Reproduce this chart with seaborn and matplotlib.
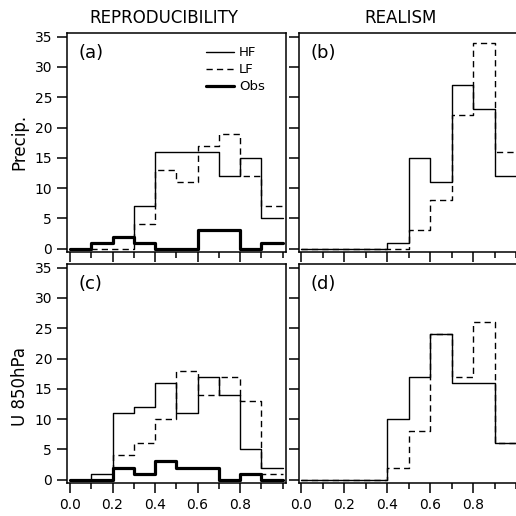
import numpy as np
import pandas as pd
import matplotlib
matplotlib.use("Agg")
import matplotlib.pyplot as plt
import seaborn as sns
from matplotlib.ticker import MultipleLocator

# ---- data ----
bin_edges = [0.0, 0.1, 0.2, 0.3, 0.4, 0.5, 0.6, 0.7, 0.8, 0.9, 1.0]

precip_repro_hf = [0, 1, 2, 7, 16, 16, 16, 12, 15, 5]
precip_repro_lf = [0, 0, 0, 4, 13, 11, 17, 19, 12, 7]
precip_repro_obs = [0, 1, 2, 1, 0, 0, 3, 3, 0, 1]

precip_real_hf = [0, 0, 0, 0, 1, 15, 11, 27, 23, 12]
precip_real_lf = [0, 0, 0, 0, 0, 3, 8, 22, 34, 16]

u850_repro_hf = [0, 1, 11, 12, 16, 11, 17, 14, 5, 2]
u850_repro_lf = [0, 0, 4, 6, 10, 18, 14, 17, 13, 1]
u850_repro_obs = [0, 0, 2, 1, 3, 2, 2, 0, 1, 0]

u850_real_hf = [0, 0, 0, 0, 10, 17, 24, 16, 16, 6]
u850_real_lf = [0, 0, 0, 0, 2, 8, 24, 17, 26, 6]

col_titles = ["REPRODUCIBILITY", "REALISM"]
row_labels = ["Precip.", "U 850hPa"]
panel_tags = ["(a)", "(b)", "(c)", "(d)"]
series_names = ["HF", "LF", "Obs"]
y_ticks = [0, 5, 10, 15, 20, 25, 30, 35]
x_ticks = [0.0, 0.2, 0.4, 0.6, 0.8]

# ---- style ----
sns.set_style("ticks")
plt.rcParams["font.family"] = ["DejaVu Sans"]
plt.rcParams["axes.linewidth"] = 1.1
for k in ["text.color", "axes.labelcolor", "xtick.color", "ytick.color",
          "axes.edgecolor", "xtick.labelcolor", "ytick.labelcolor"]:
    plt.rcParams[k] = "black"

W = 516.0
fig = plt.figure(figsize=(5.16, 5.16), dpi=100)

def frac(px):
    return px / W

pw = 219
left_x = [67, 299]
top_y = [33, 264]
axes = {}
for r in range(2):
    for c in range(2):
        l = frac(left_x[c])
        b = 1 - frac(top_y[r] + pw)
        ax = fig.add_axes([l, b, frac(pw), frac(pw)])
        axes[(r, c)] = ax

edges = list(bin_edges)
centers = [(a + b) / 2 for a, b in zip(bin_edges[:-1], bin_edges[1:])]

styles = {
    "HF": dict(linestyle="-", linewidth=1.0),
    "LF": dict(linestyle=(0, (4.5, 3.0)), linewidth=1.0),
    "Obs": dict(linestyle="-", linewidth=2.3),
}

panel_data = {
    (0, 0): {"HF": precip_repro_hf, "LF": precip_repro_lf, "Obs": precip_repro_obs},
    (0, 1): {"HF": precip_real_hf, "LF": precip_real_lf},
    (1, 0): {"HF": u850_repro_hf, "LF": u850_repro_lf, "Obs": u850_repro_obs},
    (1, 1): {"HF": u850_real_hf, "LF": u850_real_lf},
}

for (r, c), ax in axes.items():
    for name, vals in panel_data[(r, c)].items():
        df = pd.DataFrame({"x": centers, "w": vals})
        sns.histplot(data=df, x="x", weights="w", bins=edges, element="step",
                     fill=False, color="black", label=name, ax=ax,
                     **styles[name])
    ax.set_ylim(-0.55, 35.6)
    if c == 0:
        ax.set_xlim(-0.014, 1.016)
    else:
        ax.set_xlim(-0.01, 1.008)
    ax.set_xlabel("")
    ax.set_ylabel("")
    ax.set_yticks(y_ticks)
    ax.set_xticks(x_ticks)
    ax.xaxis.set_minor_locator(MultipleLocator(0.1))
    ax.tick_params(axis="both", which="major", direction="out", length=7.2,
                   width=1.1, labelsize=10, color="black", labelcolor="black", pad=3.5)
    ax.tick_params(axis="x", which="minor", direction="out", length=4.3,
                   width=1.1, color="black")
    if c == 1:
        ax.tick_params(axis="y", labelleft=False)
    if r == 0:
        ax.tick_params(axis="x", labelbottom=False)
    for s in ax.spines.values():
        s.set_visible(True)
        s.set_linewidth(1.1)
        s.set_color("black")
    ax.text(12.0 / pw, 1 - 20.0 / pw, panel_tags[r * 2 + c], color="black",
            transform=ax.transAxes, fontsize=13, ha="left", va="center")

# legend in (a)
axA = axes[(0, 0)]
h, lab = axA.get_legend_handles_labels()
leg = axA.legend(h, lab, loc="upper left", bbox_to_anchor=((206 - 67) / pw, (252 - 46.5) / pw),
                 borderaxespad=0, borderpad=0, frameon=False, fontsize=9.5,
                 handlelength=2.1, handletextpad=0.4, labelspacing=0.3)
for t in leg.get_texts():
    t.set_color("black")

# column titles
fig.text(frac(164), 1 - frac(18), col_titles[0], fontsize=12, ha="center", va="center", color="black")
fig.text(frac(401), 1 - frac(18), col_titles[1], fontsize=12, ha="center", va="center", color="black")
# row labels
fig.text(frac(19), 1 - frac(142), row_labels[0], fontsize=12, ha="center", va="center",
         rotation=90, color="black")
fig.text(frac(20), 1 - frac(387), row_labels[1], fontsize=12, ha="center", va="center",
         rotation=90, color="black")

fig.savefig("out.png", dpi=100)
